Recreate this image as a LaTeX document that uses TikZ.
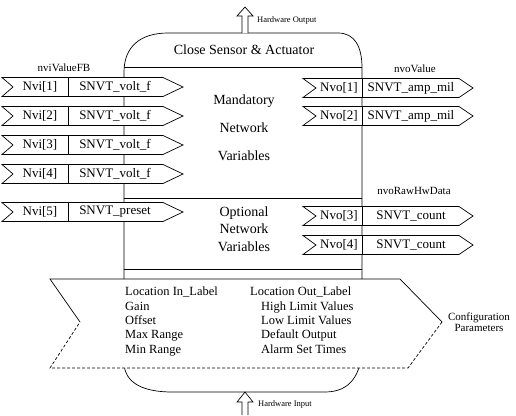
\documentclass[tikz,border=0pt]{standalone}
\usepackage{fontspec}
\setmainfont{Liberation Serif}
\usetikzlibrary{calc}

\tikzset{
  body/.style={draw, line width=0.7pt},
  nvbox/.style={draw, fill=white, line width=0.7pt},
  nvtext/.style={font=\fontsize{13}{15}\selectfont, inner sep=0pt},
  tag/.style={font=\fontsize{11}{10.5}\selectfont, inner sep=0pt},
  hwtag/.style={font=\fontsize{8.5}{10}\selectfont, inner sep=0pt, anchor=west},
  midtext/.style={font=\fontsize{14}{17.5}\selectfont, align=center, inner sep=0pt},
  cfgtext/.style={font=\fontsize{12.5}{14.3}\selectfont, align=left, inner sep=0pt, anchor=north west},
}

\begin{document}
\begin{tikzpicture}[x=1pt, y=-1pt]
    \useasboundingbox (0,0) rectangle (516,415);

    % Outline of the device block
    \draw[body] (124,72) .. controls (124,47) and (140,33) .. (168,33) -- (338,33)
        .. controls (355,33) and (362,47) .. (362,68) -- (362,345)
        .. controls (362,375) and (350,392) .. (325,392) -- (172,392)
        .. controls (145,392) and (124,384) .. (124,362) -- cycle;
    \draw[body] (124,67) -- (362,67);
    \draw[body] (124,198) -- (362,198);
    \draw[body] (124,269) -- (362,269);

    % Hardware arrows
    \coordinate (hwout) at (245,33);
    \coordinate (hwin) at (245,392);
    \draw[body, fill=white] ($(hwout)+(-3,0)$) -- ++(0,-17) -- ++(-5,0) -- ($(hwout)+(0,-26)$)
        -- ($(hwout)+(8,-17)$) -- ++(-5,0) -- ($(hwout)+(3,0)$);
    \draw[body, fill=white] ($(hwin)+(-3,23)$) -- ++(0,-13) -- ++(-5,0) -- (hwin)
        -- ($(hwin)+(8,10)$) -- ++(-5,0) -- ($(hwin)+(3,23)$);
    \node[hwtag] (hwoutlbl) at (257,20) {Hardware Output};
    \node[hwtag] (hwinlbl) at (258,404) {Hardware Input};

    % Texts inside the block
    \node[font=\fontsize{14}{16}\selectfont, inner sep=0pt] (title) at (244,50) {Close Sensor \& Actuator};
    \node[midtext] (mand) at (244,101) {Mandatory};
    \node[midtext] (mandnet) at (244,128) {Network};
    \node[midtext] (mandvar) at (244,156) {Variables};
    \node[midtext] (opt) at (244,229) {Optional\\Network\\Variables};

    % Input network variables
    \node[tag] (nvilbl) at (64,68) {nviValueFB};
    \foreach \i/\y/\typ in {1/87/volt\_f, 2/116/volt\_f, 3/145/volt\_f, 4/174/volt\_f, 5/212/preset} {
        \draw[nvbox] (2,\y-9.5) -- (163,\y-9.5) -- (183,\y) -- (163,\y+9.5) -- (2,\y+9.5) -- (13,\y) -- cycle;
        \draw[nvbox] (68,\y-9.5) -- (68,\y+9.5);
        \node[nvtext] (nvi\i) at (40,\y) {Nvi[\i]};
        \node[nvtext] (nvit\i) at (115,\y) {SNVT\_\typ};
    }

    % Output network variables
    \node[tag] (nvolbl) at (415,69) {nvoValue};
    \node[tag] (rawlbl) at (414,191) {nvoRawHwData};
    \foreach \i/\y/\typ in {1/88/amp\_mil, 2/116/amp\_mil, 3/216/count, 4/245/count} {
        \draw[nvbox] (303,\y-9.5) -- (459,\y-9.5) -- (473,\y) -- (459,\y+9.5) -- (303,\y+9.5) -- (316,\y) -- cycle;
        \draw[nvbox] (362,\y-9.5) -- (362,\y+9.5);
        \node[nvtext] (nvo\i) at (339,\y) {Nvo[\i]};
        \node[nvtext] (nvot\i) at (411,\y) {SNVT\_\typ};
    }

    % Configuration parameters
    \fill[white] (50,279) -- (400,279) -- (442,322) -- (408,368) -- (50,368) -- (80,322) -- cycle;
    \draw[body] (80,322) -- (50,279) -- (400,279) -- (442,322);
    \draw[body, densely dashed] (442,322) -- (408,368) -- (50,368) -- (80,322);
    \node[cfgtext] (cfgin) at (125,287) {Location In\_Label\\Gain\\Offset\\Max Range\\Min Range};
    \node[cfgtext] (cfgout) at (261,287) {\hspace*{-11pt}Location Out\_Label\\High Limit Values\\Low Limit Values\\Default Output\\Alarm Set Times};
    \node[tag, align=center] (cfglbl) at (479,322) {Configuration\\Parameters};
\end{tikzpicture}
\end{document}
